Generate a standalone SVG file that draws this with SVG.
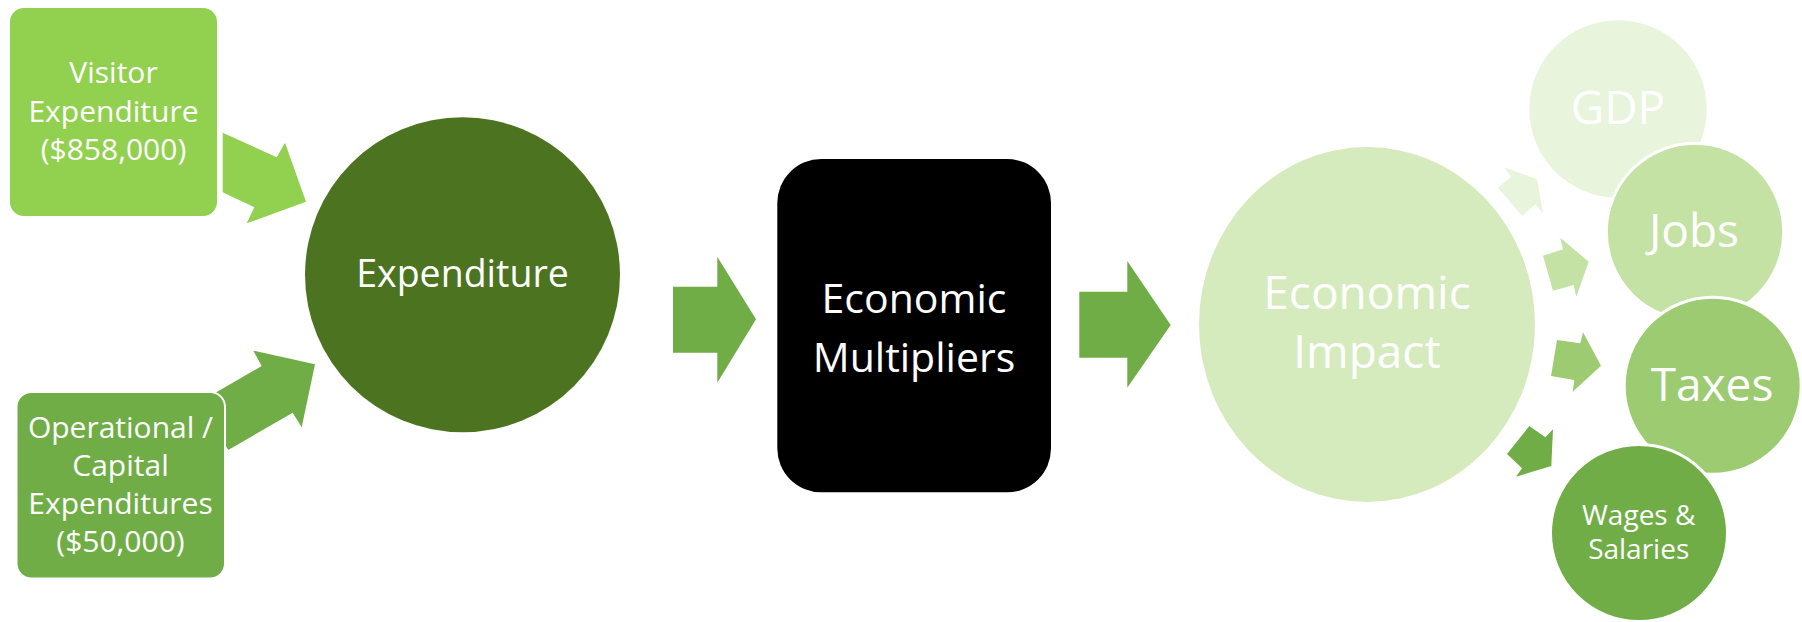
<svg xmlns="http://www.w3.org/2000/svg" width="1802" height="622" viewBox="0 0 1802 622">
<style>
  text { font-family: "Open Sans", "Noto Sans", "Liberation Sans", sans-serif; fill: #ffffff; text-anchor: middle; }
  .box { stroke: #ffffff; stroke-width: 2; }
  .bub { stroke: #ffffff; stroke-width: 3; }
  .c1 { fill: #92d050; }
  .c2 { fill: #70ad47; }
  .c3 { fill: #4c7420; }
  .c4 { fill: #d5ebbd; }
  .c5 { fill: #e8f4dc; }
  .c6 { fill: #c5e2a5; }
  .c7 { fill: #9ccb72; }
  .t30 { font-size: 30px; }
  .t28 { font-size: 28px; }
  .t38 { font-size: 37.5px; }
  .t41 { font-size: 41px; }
  .t46 { font-size: 46px; }
</style>
<rect width="1802" height="622" fill="#ffffff"/>
<g id="connectors">
  <polygon class="c1" points="222.7,132.7 276.7,157.3 285,142.7 306,201.7 246.7,223.3 254.3,207.3 222.7,192.3"/>
  <polygon class="c2" points="197.3,403.3 261.7,366 253.3,350.7 315,364.3 301.7,427.3 292.7,412.7 228.3,450"/>
  <polygon class="c2" points="673,286.7 717.3,286.7 717.3,256.7 756,319.3 717.3,382.7 717.3,352.7 673,352.7"/>
  <polygon class="c2" points="1079.3,291.7 1127.3,291.7 1127.3,261 1170.7,325 1127.3,387.7 1127.3,357.7 1079.3,357.7"/>
  <polygon class="c5" points="1503.7,167.3 1537,179.3 1543,213.3 1535.3,204.3 1522,215.7 1498,187.7 1511.3,176.7"/>
  <polygon class="c6" points="1560.3,237.7 1588.7,261.7 1576.3,296.7 1573.7,285 1553,290.7 1543,255.7 1563,249.3"/>
  <polygon class="c7" points="1583,332.3 1601,365.7 1572.7,391.7 1574.3,380 1551,376 1557,340 1580.3,343.3"/>
  <polygon class="c2" points="1553,429.3 1551.3,466 1516,476.7 1522,468.3 1507,454 1529.3,426 1545.3,437.3"/>
</g>
<g id="visitor">
  <rect class="box c1" x="9" y="7" width="209" height="210" rx="15"/>
  <text class="t30" x="113.5" y="83">Visitor</text>
  <text class="t30" x="113.5" y="122">Expenditure</text>
  <text class="t30" x="113.5" y="160">($858,000)</text>
</g>
<g id="operational">
  <rect class="box c2" x="16.5" y="392" width="208.5" height="186.5" rx="15"/>
  <text class="t30" x="120.5" y="437.5">Operational /</text>
  <text class="t30" x="120.5" y="475.5">Capital</text>
  <text class="t30" x="120.5" y="513.5">Expenditures</text>
  <text class="t30" x="120.5" y="551.5">($50,000)</text>
</g>
<g id="expenditure">
  <circle class="c3" cx="462.5" cy="274.8" r="157.5"/>
  <text class="t38" x="462.5" y="287.3">Expenditure</text>
</g>
<g id="multipliers">
  <rect x="777.3" y="159" width="273.7" height="333.3" rx="44" fill="#000000"/>
  <text class="t41" x="914" y="312.7">Economic</text>
  <text class="t41" x="914" y="371.7">Multipliers</text>
</g>
<g id="impact">
  <ellipse class="c4" cx="1367" cy="324.5" rx="168" ry="177.5"/>
  <text class="t46" x="1367" y="309">Economic</text>
  <text class="t46" x="1367" y="367.7">Impact</text>
</g>
<g id="gdp">
  <circle class="c5" cx="1618" cy="109" r="88.7"/>
  <text class="t46" x="1618" y="124.3">GDP</text>
</g>
<g id="jobs">
  <circle class="bub c6" cx="1695" cy="232" r="88.7"/>
  <text class="t46" x="1694" y="246.7">Jobs</text>
</g>
<g id="taxes">
  <circle class="bub c7" cx="1712.7" cy="385.8" r="88.5"/>
  <text class="t46" x="1712" y="401">Taxes</text>
</g>
<g id="wages">
  <circle class="bub c2" cx="1639" cy="533" r="88.5"/>
  <text class="t28" x="1638.7" y="525">Wages &amp;</text>
  <text class="t28" x="1638.7" y="559.3">Salaries</text>
</g>
</svg>
